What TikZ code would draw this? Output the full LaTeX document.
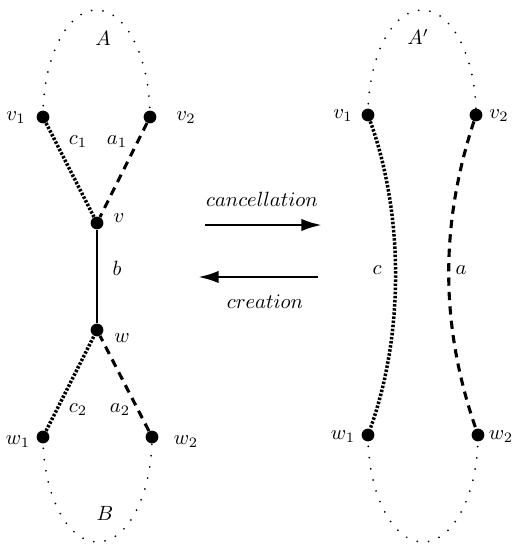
\documentclass[tikz,border=0pt]{standalone}
\usetikzlibrary{arrows.meta}
\begin{document}
\begin{tikzpicture}[x=0.485pt,y=0.485pt,
  vtx/.style={circle,fill=black,inner sep=0pt,minimum size=6.2pt},
  lbl/.style={inner sep=0pt},
  loopline/.style={line width=0.95pt,line cap=round,dash pattern=on 0pt off 5.5pt},
  dotedge/.style={line width=1.7pt,dash pattern=on 1.2pt off 0.8pt},
  dashedge/.style={line width=1.5pt,dash pattern=on 4pt off 3pt},
  solidedge/.style={line width=1.3pt},
  bigarrow/.style={line width=1.4pt,-{Latex[length=10pt,width=6pt]}}]
\useasboundingbox (0,0) rectangle (516,545);
% left graph
\node[vtx] (v1) at (43,428) {};
\node[vtx] (v2) at (150,428) {};
\node[vtx] (v) at (97,322) {};
\node[vtx] (w) at (97,215) {};
\node[vtx] (w1) at (43,108) {};
\node[vtx] (w2) at (152,108) {};
\draw[loopline] (v1.center) arc[start angle=180,end angle=0,x radius=53.5,y radius=107];
\draw[loopline] (w1.center) arc[start angle=180,end angle=360,x radius=54.5,y radius=105];
\draw[dotedge] (v1) -- (v);
\draw[dashedge] (v2) -- (v);
\draw[solidedge] (v) -- (w);
\draw[dotedge] (w1) -- (w);
\draw[dashedge] (w2) -- (w);
\node[lbl] (lA) at (103,507) {$A$};
\node[lbl] (lv1) at (16,427) {$v_1$};
\node[lbl] (lv2) at (186,427) {$v_2$};
\node[lbl] (lc1) at (78,403) {$c_1$};
\node[lbl] (la1) at (117,403) {$a_1$};
\node[lbl] (lv) at (119,327) {$v$};
\node[lbl] (lb) at (117,277) {$b$};
\node[lbl] (lw) at (122,207) {$w$};
\node[lbl] (lc2) at (78,135) {$c_2$};
\node[lbl] (la2) at (120,135) {$a_2$};
\node[lbl] (lw1) at (18,103) {$w_1$};
\node[lbl] (lw2) at (186,103) {$w_2$};
\node[lbl] (lB) at (105,32) {$B$};
% arrows
\coordinate (t1) at (205,320);
\coordinate (t2) at (322,320);
\coordinate (b1) at (318,268);
\coordinate (b2) at (198,268);
\draw[bigarrow] (t1) -- (t2);
\draw[bigarrow] (b1) -- (b2);
\node[lbl] (canc) at (262,346) {$cancellation$};
\node[lbl] (crea) at (265,243) {$creation$};
% right graph
\node[vtx] (V1) at (368,430) {};
\node[vtx] (V2) at (476,430) {};
\node[vtx] (W1) at (368,110) {};
\node[vtx] (W2) at (478,110) {};
\draw[loopline] (V1.center) arc[start angle=180,end angle=0,x radius=54,y radius=105];
\draw[loopline] (W1.center) arc[start angle=180,end angle=360,x radius=55,y radius=107];
\draw[dotedge] (V1) .. controls (404,330) and (404,210) .. (W1);
\draw[dashedge] (V2) .. controls (440,320) and (440,220) .. (W2);
\node[lbl] (lAp) at (418,508) {$A'$};
\node[lbl] (lV1) at (343,429) {$v_1$};
\node[lbl] (lV2) at (499,429) {$v_2$};
\node[lbl] (lc) at (377,275) {$c$};
\node[lbl] (la) at (461,275) {$a$};
\node[lbl] (lW1) at (343,108) {$w_1$};
\node[lbl] (lW2) at (501,108) {$w_2$};
\end{tikzpicture}
\end{document}
